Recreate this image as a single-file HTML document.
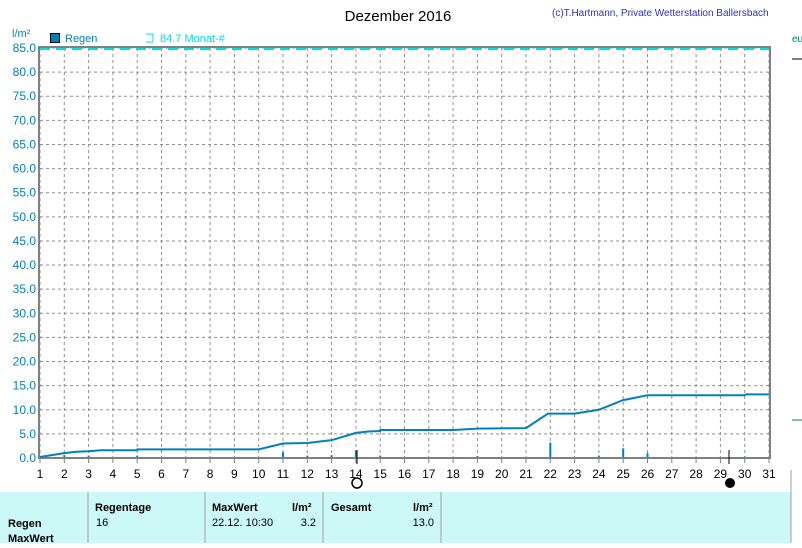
<!DOCTYPE html><html><head><style>body{margin:0;background:#fff;width:802px;height:543px;overflow:hidden;font-family:"Liberation Sans",sans-serif}</style></head><body>
<svg width="802" height="543" xmlns="http://www.w3.org/2000/svg" font-family="Liberation Sans, sans-serif">
<text x="398" y="21" font-size="15" text-anchor="middle">Dezember 2016</text>
<text x="552" y="16" font-size="10" fill="#3030c0">(c)T.Hartmann, Private Wetterstation Ballersbach</text>
<text x="12" y="37" font-size="11" fill="#0080c0">l/m²</text>
<rect x="50.5" y="33.5" width="9" height="9" fill="#0080c0" stroke="#000"/>
<text x="65" y="42" font-size="11" fill="#0080c0">Regen</text>
<path d="M146 34h7v8h-7" fill="none" stroke="#00e0e0"/>
<text x="160" y="42" font-size="11" fill="#00e0e0">84.7 Monat-#</text>
<g id="grid" stroke="#909090" stroke-dasharray="3,3" stroke-width="1"></g>
<g id="lab" font-size="12" fill="#0080c0" text-anchor="end"></g>
<g id="xl" font-size="12" fill="#000" text-anchor="middle"></g>
<line x1="40" y1="49" x2="769" y2="49" stroke="#00e0e0" stroke-width="2" stroke-dasharray="10,6"/>
<rect x="39" y="47" width="731" height="411" fill="none" stroke="#808080" stroke-width="2"/>
<g id="bars" stroke="#0080c0" stroke-width="2"></g>
<polyline id="cur" fill="none" stroke="#0080c0" stroke-width="2"/>
<line x1="357" y1="450" x2="357" y2="464" stroke="#000"/>
<circle cx="357" cy="483" r="5" fill="none" stroke="#000" stroke-width="1.5"/>
<line x1="729" y1="450" x2="729" y2="464" stroke="#000"/>
<circle cx="730" cy="483" r="5" fill="#000"/>
<rect x="0" y="492" width="791" height="51" fill="#ccf8f8"/>
<g stroke="#a0a0a0"><line x1="88" y1="492" x2="88" y2="543"/><line x1="205" y1="492" x2="205" y2="543"/><line x1="323" y1="492" x2="323" y2="543"/><line x1="441" y1="492" x2="441" y2="543"/><line x1="791" y1="470" x2="791" y2="543"/></g>
<g font-size="11" font-weight="bold"><text x="95" y="511">Regentage</text><text x="212" y="511">MaxWert</text><text x="292" y="511">l/m²</text><text x="331" y="511">Gesamt</text><text x="413" y="511">l/m²</text><text x="8" y="527">Regen</text><text x="8" y="542">MaxWert</text></g>
<g font-size="11"><text x="96" y="526">16</text><text x="212" y="526">22.12.  10:30</text><text x="316" y="526" text-anchor="end">3.2</text><text x="434" y="526" text-anchor="end">13.0</text></g>
<text x="792" y="42" font-size="10" fill="#008060">eu</text>
<line x1="792" y1="59" x2="802" y2="59" stroke="#808080" stroke-width="2"/>
<line x1="792" y1="420" x2="802" y2="420" stroke="#008060"/>
</svg>
<script>
var X=d=>40+(d-1)*729/30,Y=v=>458-v*410/85,g=document.getElementById('grid'),l=document.getElementById('lab'),xl=document.getElementById('xl'),s='';
var ns='http://www.w3.org/2000/svg';function el(p,t,a,tx){var e=document.createElementNS(ns,t);for(var k in a)e.setAttribute(k,a[k]);if(tx!=null)e.textContent=tx;p.appendChild(e);}
for(var v=0;v<=85;v+=5){el(g,'line',{x1:40,x2:769,y1:Y(v),y2:Y(v)});el(l,'text',{x:36,y:Y(v)+4},v.toFixed(1));}
for(var d=1;d<=31;d++){el(g,'line',{x1:X(d),x2:X(d),y1:48,y2:458,});el(xl,'line',{x1:X(d),x2:X(d),y1:458,y2:463,stroke:'#808080'});el(xl,'text',{x:X(d),y:478},d);}
var p=[[1,0.2],[2,1.0],[2.5,1.3],[3,1.4],[3.5,1.6],[5,1.6],[5.01,1.8],[10,1.8],[11,3.0],[12,3.1],[13,3.7],[14,5.2],[14.5,5.5],[15,5.6],[15.01,5.8],[18,5.8],[19,6.1],[21,6.2],[21.9,9.2],[23,9.2],[24,10.0],[25,12.0],[26,13.0],[30,13.0],[30.05,13.2],[31,13.2]];
document.getElementById('cur').setAttribute('points',p.map(q=>X(q[0])+','+Y(q[1])).join(' '));
var b=[[2,0.6],[3,0.5],[5,0.5],[11,1.2],[12,0.5],[13,0.6],[14,1.5],[15,0.5],[19,0.4],[22,3.2],[24,0.5],[25,2.0],[26,1.0],[30,0.3]],bg=document.getElementById('bars');
b.forEach(q=>el(bg,'line',{x1:X(q[0]),x2:X(q[0]),y1:457,y2:Y(q[1])}));
</script></body></html>
